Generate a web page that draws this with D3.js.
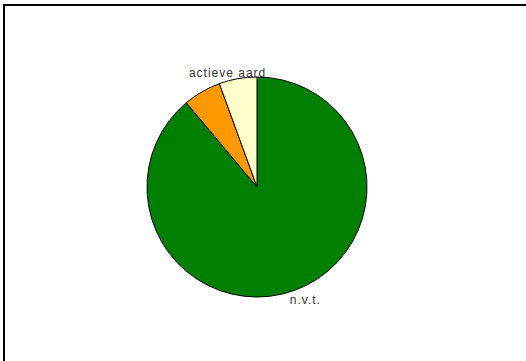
<!DOCTYPE html>
<html>
<head>
<meta charset="utf-8">
<script src="https://cdn.jsdelivr.net/npm/d3@7"></script>
<style>
  html, body { margin: 0; padding: 0; background: #fff; }
  svg { display: block; }
</style>
</head>
<body>
<svg id="chart" width="526" height="361"></svg>
<script>
const categories = ["n.v.t.", "", "actieve aard"];
const values = [16, 1, 1];
const colors = ["#008000", "#FF9900", "#FFFFCC"];

const svg = d3.select("#chart");
const W = 526, H = 361;
const cx = 257, cy = 187, R = 110;

// frame lines (top and left)
svg.append("path")
  .attr("d", `M4,${H} L4,5 L${W},5`)
  .attr("fill", "none")
  .attr("stroke", "#000")
  .attr("stroke-width", 2);

const data = categories.map((c, i) => ({ name: c, value: values[i], color: colors[i] }));

const pie = d3.pie().value(d => d.value).sort(null);
const arc = d3.arc().innerRadius(0).outerRadius(R);
const arcs = pie(data);

const g = svg.append("g").attr("transform", `translate(${cx},${cy})`);

g.selectAll("path.slice")
  .data(arcs)
  .join("path")
  .attr("class", "slice")
  .attr("d", arc)
  .attr("fill", d => d.data.color)
  .attr("stroke", "#000")
  .attr("stroke-width", 1)
  .attr("stroke-linejoin", "round");

const labelR = 112;
g.selectAll("text.lbl")
  .data(arcs.filter(d => d.data.name))
  .join("text")
  .attr("class", "lbl")
  .each(function(d) {
    const a = (d.startAngle + d.endAngle) / 2;
    const sx = Math.sin(a), cy0 = -Math.cos(a);
    const px = sx * labelR, py = cy0 * labelR;
    const tx = px + (sx >= 0 ? 10 : -10);
    const ty = cy0 < 0 ? py : py + 12;
    d3.select(this).attr("x", tx).attr("y", ty);
  })
  .attr("text-anchor", "middle")
  .attr("font-family", "Arial, 'Liberation Sans', sans-serif")
  .attr("font-size", 12)
  .attr("letter-spacing", 1)
  .attr("fill", "#333")
  .text(d => d.data.name);
</script>
</body>
</html>
